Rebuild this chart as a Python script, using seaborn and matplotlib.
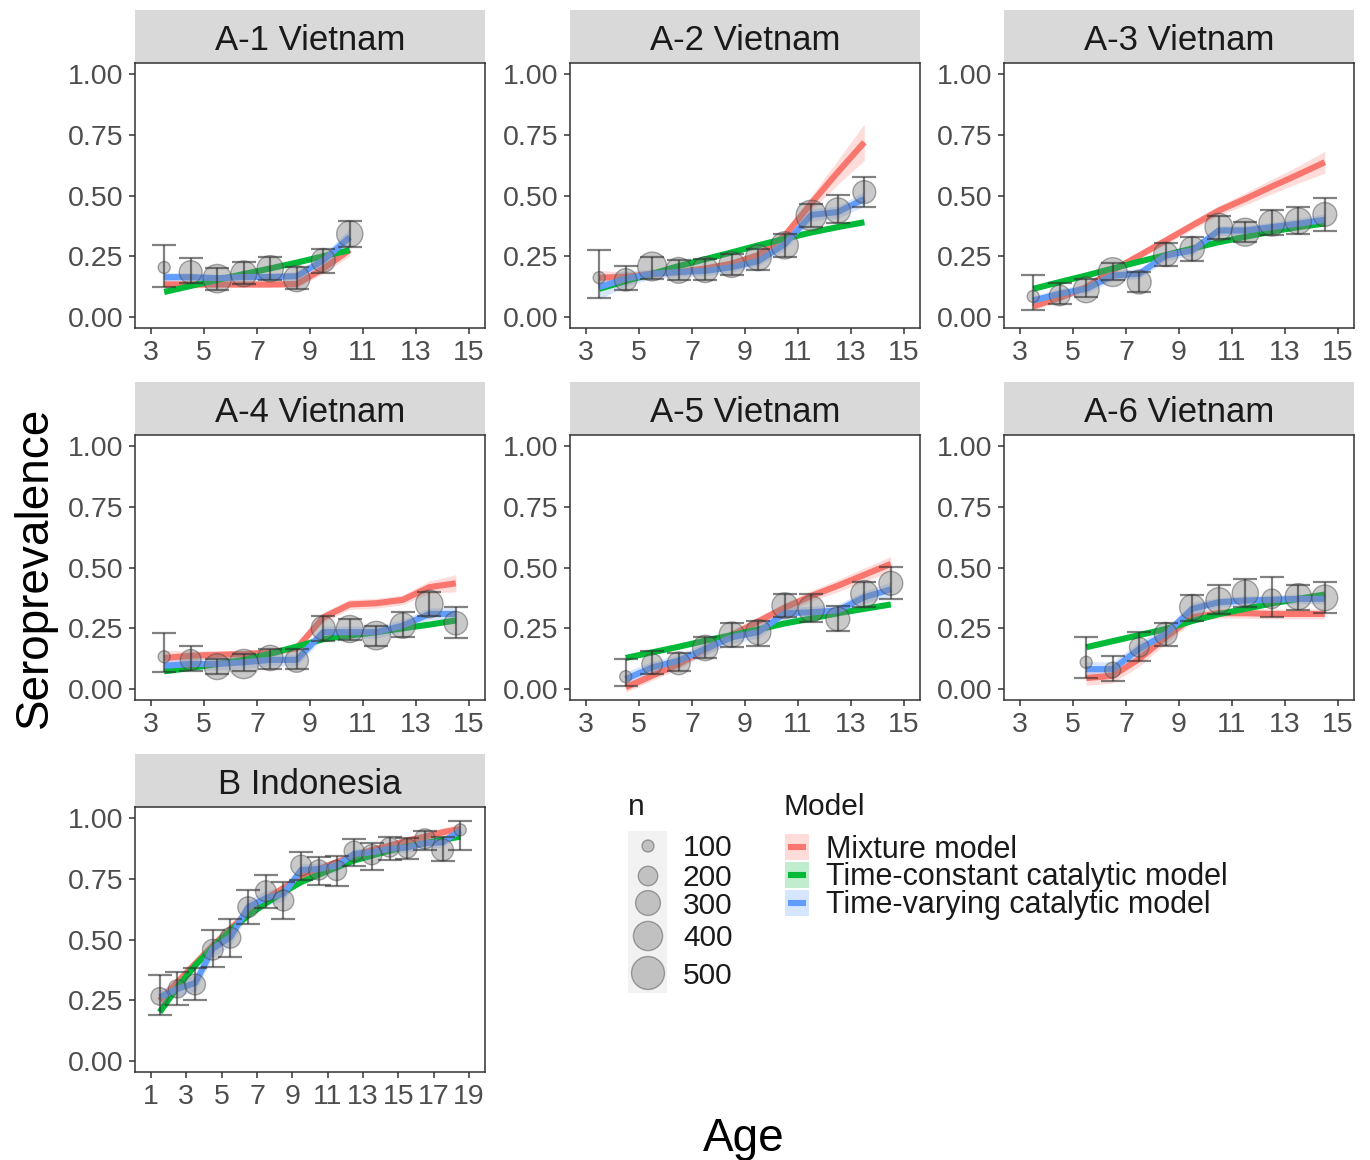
import numpy as np
import pandas as pd
import matplotlib
matplotlib.use("Agg")
import matplotlib.pyplot as plt
from matplotlib.patches import Rectangle
import seaborn as sns

# ---------------- data ----------------
panel_titles = ["A-1 Vietnam", "A-2 Vietnam", "A-3 Vietnam",
                "A-4 Vietnam", "A-5 Vietnam", "A-6 Vietnam", "B Indonesia"]
models = ["Mixture model", "Time-constant catalytic model", "Time-varying catalytic model"]
model_colors = ["#F8766D", "#00BA38", "#619CFF"]

# A-1
ages_a1 = [3.5, 4.5, 5.5, 6.5, 7.5, 8.5, 9.5, 10.5]
obs_a1 = [0.204, 0.185, 0.158, 0.178, 0.199, 0.158, 0.233, 0.342]
lo_a1 = [0.123, 0.140, 0.110, 0.134, 0.153, 0.116, 0.181, 0.288]
hi_a1 = [0.295, 0.243, 0.203, 0.226, 0.249, 0.205, 0.281, 0.395]
n_a1 = [90, 260, 380, 320, 330, 330, 280, 330]
mix_a1 = [0.134, 0.134, 0.134, 0.134, 0.134, 0.136, 0.199, 0.277]
const_a1 = [0.103, 0.128, 0.153, 0.177, 0.200, 0.224, 0.250, 0.275]
vary_a1 = [0.164, 0.164, 0.160, 0.165, 0.165, 0.168, 0.233, 0.329]
mixband_a1 = [0.020, 0.015, 0.012, 0.012, 0.012, 0.015, 0.020, 0.025]
constband_a1 = [0.006, 0.006, 0.006, 0.006, 0.006, 0.006, 0.006, 0.006]
varyband_a1 = [0.020, 0.018, 0.015, 0.015, 0.015, 0.018, 0.025, 0.035]

# A-2
ages_a2 = [3.5, 4.5, 5.5, 6.5, 7.5, 8.5, 9.5, 10.5, 11.5, 12.5, 13.5]
obs_a2 = [0.162, 0.153, 0.208, 0.192, 0.195, 0.216, 0.244, 0.295, 0.418, 0.438, 0.514]
lo_a2 = [0.079, 0.112, 0.158, 0.151, 0.153, 0.171, 0.192, 0.249, 0.370, 0.386, 0.452]
hi_a2 = [0.274, 0.208, 0.247, 0.236, 0.240, 0.260, 0.281, 0.340, 0.463, 0.504, 0.578]
n_a2 = [50, 250, 390, 320, 320, 320, 320, 350, 430, 310, 260]
mix_a2 = [0.162, 0.165, 0.178, 0.185, 0.200, 0.220, 0.255, 0.335, 0.468, 0.596, 0.719]
const_a2 = [0.116, 0.148, 0.178, 0.210, 0.238, 0.266, 0.295, 0.322, 0.348, 0.370, 0.390]
vary_a2 = [0.123, 0.158, 0.178, 0.185, 0.190, 0.205, 0.230, 0.300, 0.420, 0.432, 0.486]
mixband_a2 = [0.030, 0.020, 0.015, 0.012, 0.012, 0.012, 0.015, 0.020, 0.030, 0.050, 0.075]
constband_a2 = [0.006, 0.006, 0.006, 0.006, 0.006, 0.006, 0.006, 0.006, 0.006, 0.006, 0.006]
varyband_a2 = [0.050, 0.030, 0.020, 0.020, 0.020, 0.020, 0.020, 0.025, 0.025, 0.025, 0.030]

# A-3
ages_a3 = [3.5, 4.5, 5.5, 6.5, 7.5, 8.5, 9.5, 10.5, 11.5, 12.5, 13.5, 14.5]
obs_a3 = [0.085, 0.089, 0.112, 0.185, 0.144, 0.258, 0.281, 0.370, 0.349, 0.386, 0.395, 0.422]
lo_a3 = [0.030, 0.055, 0.082, 0.151, 0.103, 0.208, 0.230, 0.322, 0.308, 0.336, 0.342, 0.353]
hi_a3 = [0.171, 0.140, 0.158, 0.222, 0.185, 0.304, 0.329, 0.416, 0.390, 0.441, 0.452, 0.490]
n_a3 = [90, 220, 320, 390, 280, 290, 290, 360, 370, 320, 330, 280]
mix_a3 = [0.044, 0.079, 0.123, 0.192, 0.253, 0.315, 0.377, 0.438, 0.486, 0.537, 0.586, 0.637]
const_a3 = [0.116, 0.144, 0.171, 0.200, 0.228, 0.255, 0.282, 0.308, 0.330, 0.352, 0.370, 0.385]
vary_a3 = [0.068, 0.096, 0.116, 0.171, 0.178, 0.253, 0.274, 0.356, 0.356, 0.370, 0.384, 0.400]
mixband_a3 = [0.015, 0.012, 0.012, 0.012, 0.012, 0.015, 0.018, 0.020, 0.025, 0.030, 0.035, 0.045]
constband_a3 = [0.006, 0.006, 0.006, 0.006, 0.006, 0.006, 0.006, 0.006, 0.006, 0.006, 0.006, 0.006]
varyband_a3 = [0.020, 0.020, 0.020, 0.020, 0.020, 0.020, 0.020, 0.020, 0.020, 0.020, 0.022, 0.025]

# A-4
ages_a4 = [3.5, 4.5, 5.5, 6.5, 7.5, 8.5, 9.5, 10.5, 11.5, 12.5, 13.5, 14.5]
obs_a4 = [0.133, 0.120, 0.092, 0.103, 0.128, 0.117, 0.251, 0.247, 0.220, 0.261, 0.350, 0.271]
lo_a4 = [0.069, 0.073, 0.062, 0.076, 0.082, 0.082, 0.199, 0.202, 0.179, 0.213, 0.302, 0.210]
hi_a4 = [0.229, 0.179, 0.124, 0.144, 0.165, 0.165, 0.302, 0.288, 0.261, 0.316, 0.398, 0.337]
n_a4 = [80, 220, 320, 400, 310, 270, 280, 350, 380, 310, 360, 270]
mix_a4 = [0.128, 0.137, 0.141, 0.144, 0.151, 0.168, 0.295, 0.348, 0.353, 0.367, 0.419, 0.435]
const_a4 = [0.073, 0.087, 0.103, 0.120, 0.145, 0.175, 0.205, 0.220, 0.234, 0.250, 0.265, 0.282]
vary_a4 = [0.096, 0.103, 0.103, 0.110, 0.120, 0.120, 0.234, 0.234, 0.234, 0.261, 0.309, 0.309]
mixband_a4 = [0.030, 0.020, 0.015, 0.015, 0.015, 0.015, 0.020, 0.020, 0.020, 0.020, 0.025, 0.035]
constband_a4 = [0.006, 0.006, 0.006, 0.006, 0.006, 0.006, 0.006, 0.006, 0.006, 0.006, 0.006, 0.006]
varyband_a4 = [0.030, 0.025, 0.025, 0.025, 0.025, 0.025, 0.025, 0.025, 0.025, 0.025, 0.025, 0.025]

# A-5
ages_a5 = [4.5, 5.5, 6.5, 7.5, 8.5, 9.5, 10.5, 11.5, 12.5, 13.5, 14.5]
obs_a5 = [0.051, 0.103, 0.106, 0.169, 0.224, 0.234, 0.343, 0.330, 0.288, 0.391, 0.435]
lo_a5 = [0.014, 0.062, 0.073, 0.128, 0.174, 0.179, 0.295, 0.275, 0.238, 0.339, 0.371]
hi_a5 = [0.124, 0.155, 0.147, 0.213, 0.271, 0.282, 0.391, 0.389, 0.343, 0.440, 0.504]
n_a5 = [85, 220, 260, 310, 310, 310, 320, 330, 280, 350, 280]
mix_a5 = [0.007, 0.055, 0.103, 0.165, 0.222, 0.278, 0.335, 0.383, 0.425, 0.470, 0.515]
const_a5 = [0.128, 0.151, 0.174, 0.199, 0.222, 0.245, 0.270, 0.290, 0.312, 0.330, 0.348]
vary_a5 = [0.041, 0.089, 0.117, 0.165, 0.213, 0.234, 0.312, 0.316, 0.323, 0.378, 0.410]
mixband_a5 = [0.020, 0.020, 0.020, 0.020, 0.020, 0.020, 0.020, 0.022, 0.025, 0.028, 0.030]
constband_a5 = [0.006, 0.006, 0.006, 0.006, 0.006, 0.006, 0.006, 0.006, 0.006, 0.006, 0.006]
varyband_a5 = [0.030, 0.025, 0.025, 0.025, 0.025, 0.025, 0.025, 0.025, 0.025, 0.025, 0.030]

# A-6
ages_a6 = [5.5, 6.5, 7.5, 8.5, 9.5, 10.5, 11.5, 12.5, 13.5, 14.5]
obs_a6 = [0.110, 0.078, 0.172, 0.227, 0.337, 0.364, 0.394, 0.371, 0.380, 0.375]
lo_a6 = [0.045, 0.034, 0.117, 0.179, 0.279, 0.309, 0.337, 0.298, 0.326, 0.312]
hi_a6 = [0.213, 0.137, 0.234, 0.271, 0.385, 0.426, 0.453, 0.460, 0.430, 0.440]
n_a6 = [60, 145, 200, 260, 310, 320, 330, 200, 330, 320]
mix_a6 = [0.045, 0.055, 0.124, 0.213, 0.295, 0.312, 0.312, 0.309, 0.309, 0.309]
const_a6 = [0.172, 0.197, 0.222, 0.247, 0.280, 0.308, 0.330, 0.352, 0.371, 0.389]
vary_a6 = [0.082, 0.082, 0.165, 0.227, 0.330, 0.357, 0.364, 0.367, 0.371, 0.371]
mixband_a6 = [0.030, 0.030, 0.030, 0.025, 0.020, 0.020, 0.020, 0.020, 0.020, 0.020]
constband_a6 = [0.006, 0.006, 0.006, 0.006, 0.006, 0.006, 0.006, 0.006, 0.006, 0.006]
varyband_a6 = [0.030, 0.030, 0.030, 0.025, 0.025, 0.020, 0.020, 0.020, 0.020, 0.020]

# B Indonesia
ages_b = [1.5, 2.5, 3.5, 4.5, 5.5, 6.5, 7.5, 8.5, 9.5, 10.5, 11.5, 12.5, 13.5, 14.5,
          15.5, 16.5, 17.5, 18.5]
obs_b = [0.266, 0.297, 0.315, 0.458, 0.507, 0.633, 0.699, 0.660, 0.804, 0.786, 0.784,
         0.863, 0.849, 0.879, 0.875, 0.914, 0.868, 0.951]
lo_b = [0.188, 0.229, 0.252, 0.386, 0.427, 0.562, 0.630, 0.585, 0.745, 0.726, 0.722,
        0.804, 0.786, 0.825, 0.832, 0.868, 0.822, 0.868]
hi_b = [0.352, 0.368, 0.384, 0.540, 0.585, 0.704, 0.767, 0.736, 0.859, 0.841, 0.845,
        0.914, 0.896, 0.921, 0.918, 0.948, 0.921, 0.986]
n_b = [170, 180, 220, 220, 220, 220, 220, 220, 220, 210, 210, 210, 210, 200, 200, 210,
       240, 50]
mix_b = [0.249, 0.325, 0.400, 0.475, 0.544, 0.612, 0.667, 0.712, 0.759, 0.790, 0.818,
         0.845, 0.868, 0.886, 0.907, 0.923, 0.941, 0.955]
const_b = [0.201, 0.304, 0.393, 0.468, 0.537, 0.599, 0.649, 0.695, 0.736, 0.767, 0.797,
           0.825, 0.845, 0.866, 0.882, 0.896, 0.910, 0.923]
vary_b = [0.263, 0.297, 0.321, 0.462, 0.510, 0.633, 0.670, 0.688, 0.786, 0.790, 0.804,
          0.852, 0.859, 0.873, 0.879, 0.896, 0.900, 0.948]
mixband_b = [0.015, 0.015, 0.015, 0.015, 0.015, 0.015, 0.015, 0.015, 0.015, 0.015, 0.015,
             0.015, 0.015, 0.015, 0.015, 0.015, 0.018, 0.020]
constband_b = [0.006] * 18
varyband_b = [0.030, 0.030, 0.035, 0.035, 0.035, 0.030, 0.030, 0.030, 0.025, 0.025, 0.025,
              0.020, 0.020, 0.020, 0.020, 0.020, 0.020, 0.020]

legend_n = [100, 200, 300, 400, 500]
xticks_a = [3, 5, 7, 9, 11, 13, 15]
xticks_b = [1, 3, 5, 7, 9, 11, 13, 15, 17, 19]
yticks = [0.0, 0.25, 0.50, 0.75, 1.00]
ytick_labels = ["0.00", "0.25", "0.50", "0.75", "1.00"]

# ---------------- style ----------------
sns.set_theme(style="white")
plt.rcParams["font.family"] = ["Liberation Sans", "DejaVu Sans"]
plt.rcParams["lines.solid_capstyle"] = "butt"

W, H = 1370, 1160
fig = plt.figure(figsize=(W / 100, H / 100), dpi=100)
palette = dict(zip(models, model_colors))

SIZES = (75, 565)
SIZE_NORM = (100, 500)


def size_of(n):
    n = np.asarray(n, dtype=float)
    return SIZES[0] + (SIZES[1] - SIZES[0]) * (n - SIZE_NORM[0]) / (SIZE_NORM[1] - SIZE_NORM[0])


col_left = [135, 570, 1004]
row_top = [63, 435, 807]
panel_w, panel_h, strip_h = 350, 265, 53
positions = [(0, 0), (0, 1), (0, 2), (1, 0), (1, 1), (1, 2), (2, 0)]

panels = [
    (ages_a1, obs_a1, lo_a1, hi_a1, n_a1, mix_a1, const_a1, vary_a1, mixband_a1, constband_a1, varyband_a1),
    (ages_a2, obs_a2, lo_a2, hi_a2, n_a2, mix_a2, const_a2, vary_a2, mixband_a2, constband_a2, varyband_a2),
    (ages_a3, obs_a3, lo_a3, hi_a3, n_a3, mix_a3, const_a3, vary_a3, mixband_a3, constband_a3, varyband_a3),
    (ages_a4, obs_a4, lo_a4, hi_a4, n_a4, mix_a4, const_a4, vary_a4, mixband_a4, constband_a4, varyband_a4),
    (ages_a5, obs_a5, lo_a5, hi_a5, n_a5, mix_a5, const_a5, vary_a5, mixband_a5, constband_a5, varyband_a5),
    (ages_a6, obs_a6, lo_a6, hi_a6, n_a6, mix_a6, const_a6, vary_a6, mixband_a6, constband_a6, varyband_a6),
    (ages_b, obs_b, lo_b, hi_b, n_b, mix_b, const_b, vary_b, mixband_b, constband_b, varyband_b),
]

for title, (r, c), pdata in zip(panel_titles, positions, panels):
    ages, obs, lo, hi, n, mix, const, vary, mb, cb, vb = pdata
    left, top = col_left[c], row_top[r]
    ax = fig.add_axes([left / W, 1 - (top + panel_h) / H, panel_w / W, panel_h / H])

    ages = np.asarray(ages)
    # ribbons
    for model, line, band in zip(models, [mix, const, vary], [mb, cb, vb]):
        line = np.asarray(line)
        band = np.asarray(band)
        ax.fill_between(ages, line - band, line + band, color=palette[model],
                        alpha=0.25, linewidth=0, zorder=1)

    # model lines
    df_lines = pd.DataFrame({
        "Age": np.concatenate([ages] * 3),
        "Prev": np.concatenate([mix, const, vary]),
        "Model": np.repeat(models, len(ages)),
    })
    sns.lineplot(data=df_lines, x="Age", y="Prev", hue="Model", hue_order=models,
                 palette=palette, linewidth=4.4, legend=False, ax=ax, zorder=2,
                 errorbar=None)

    # observed points
    df_obs = pd.DataFrame({"Age": ages, "Prev": obs, "n": n})
    sns.scatterplot(data=df_obs, x="Age", y="Prev", size="n", sizes=SIZES,
                    size_norm=SIZE_NORM, color="#7F7F7F", alpha=0.42,
                    edgecolor="#3A3A3A", linewidth=1.0, legend=False, ax=ax, zorder=3)

    # error bars
    obs_a = np.asarray(obs)
    ax.errorbar(ages, obs_a, yerr=[obs_a - np.asarray(lo), np.asarray(hi) - obs_a],
                fmt="none", ecolor="#2E2E2E", elinewidth=1.6, capsize=8.3,
                capthick=1.6, alpha=0.6, zorder=4)

    # axes formatting
    if title.startswith("B"):
        ax.set_xlim(0.1, 19.9)
        ax.set_xticks(xticks_b)
    else:
        ax.set_xlim(2.4, 15.6)
        ax.set_xticks(xticks_a)
    ax.set_ylim(-0.045, 1.045)
    ax.set_yticks(yticks)
    ax.set_yticklabels(ytick_labels)
    ax.set_xlabel("")
    ax.set_ylabel("")
    ax.tick_params(axis="both", which="major", direction="out", length=4.5, width=1.1,
                   color="#333333", labelcolor="#4D4D4D", labelsize=20.5, pad=4,
                   bottom=True, left=True)
    for sp in ax.spines.values():
        sp.set_color("#333333")
        sp.set_linewidth(1.1)
    ax.set_facecolor("white")

    # strip
    sh = strip_h / panel_h
    ax.add_patch(Rectangle((0, 1), 1, sh, transform=ax.transAxes, clip_on=False,
                           facecolor="#D9D9D9", edgecolor="none", zorder=0))
    ax.text(0.5, 1 + sh / 2, title, transform=ax.transAxes, ha="center",
            va="center_baseline", fontsize=25, color="#1A1A1A")

# ---------------- overlay: titles & legend ----------------
ov = fig.add_axes([0, 0, 1, 1])
ov.set_xlim(0, W)
ov.set_ylim(H, 0)
ov.axis("off")
ov.patch.set_alpha(0)

ov.text(744, 1151, "Age", fontsize=33, ha="center", va="baseline", color="black")
ov.text(35, 567, "Seroprevalence", fontsize=33, ha="center", va="center",
        rotation=90, color="black")

# size legend
ov.text(628, 815, "n", fontsize=21.5, ha="left", va="baseline", color="#1A1A1A")
ov.add_patch(Rectangle((628, 831), 39, 162, facecolor="#F2F2F2", edgecolor="none"))
key_y = [846, 876, 903, 936, 973]
ov.scatter([648] * len(legend_n), key_y, s=size_of(legend_n), c="#7F7F7F",
           alpha=0.42, edgecolors="#3A3A3A", linewidths=1.0, zorder=3)
for nv, yy in zip(legend_n, key_y):
    ov.text(683, yy + 10.5, str(nv), fontsize=21.5, ha="left", va="baseline",
            color="#1A1A1A")

# model legend
ov.text(784, 815, "Model", fontsize=21.5, ha="left", va="baseline", color="#1A1A1A")
for i, (model, colr) in enumerate(zip(models, model_colors)):
    y0 = 834 + i * 28
    ov.add_patch(Rectangle((785, y0), 24, 26, facecolor=colr, alpha=0.25,
                           edgecolor="none"))
    ov.plot([788, 806], [y0 + 13, y0 + 13], color=colr, linewidth=4.4,
            solid_capstyle="butt")
    ov.text(826, y0 + 13 + 10.5, model, fontsize=22, ha="left", va="baseline",
            color="#1A1A1A")

fig.savefig("out.png", dpi=100, facecolor="white")
